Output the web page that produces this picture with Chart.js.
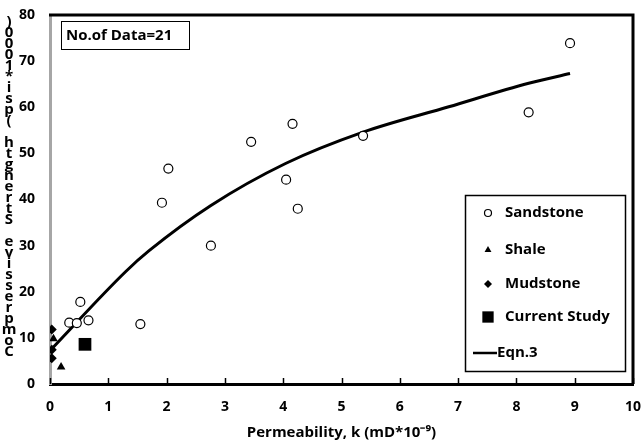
<!DOCTYPE html>
<html>
<head>
<meta charset="utf-8">
<script src="https://cdn.jsdelivr.net/npm/chart.js@4/dist/chart.umd.min.js"></script>
<style>
  html, body { margin: 0; padding: 0; background: #fff; }
</style>
</head>
<body>
<canvas id="myChart" width="642" height="444"></canvas>
<script>
// permeability k (mD*10^-9) and compressive strength (psi*1000) per rock type
var sandstoneK   = [0.33, 0.46, 0.52, 0.66, 1.55, 1.92, 2.03, 2.76, 3.45, 4.05, 4.16, 4.25, 5.37, 8.21, 8.92];
var sandstoneUCS = [13.3, 13.2, 17.8, 13.8, 13.0, 39.3, 46.7, 30.0, 52.5, 44.3, 56.4, 38.0, 53.8, 58.9, 73.9];
var shaleK   = [0.06, 0.19];
var shaleUCS = [9.8, 3.7];
var mudstoneK   = [0.03, 0.03, 0.03];
var mudstoneUCS = [11.8, 7.4, 5.6];
var currentK   = [0.60];
var currentUCS = [8.6];

// Eqn.3 fitted curve
var eqnK   = [0.02, 1.30, 1.70, 2.76, 4.04, 5.37, 6.84, 8.21, 8.92];
var eqnUCS = [7.5, 24.4, 28.9, 38.7, 47.8, 54.6, 60.1, 65.2, 67.3];

var xTicks = [0, 1, 2, 3, 4, 5, 6, 7, 8, 9, 10];
var yTicks = [0, 10, 20, 30, 40, 50, 60, 70, 80];

var yTitle = "Compressive Strength (psi*1000)";
var xTitle = "Permeability, k (mD*10\u207B\u2079)";
var noteText = "No.of Data=21";

var FONT = "'Open Sans', sans-serif";

function toPoints(xs, ys) {
    return xs.map(function (x, i) { return { x: x, y: ys[i] }; });
}

var datasets = [
    {
        label: "Sandstone",
        data: toPoints(sandstoneK, sandstoneUCS),
        pointStyle: "circle",
        pointRadius: 4.5,
        pointBorderWidth: 1.2,
        pointBorderColor: "#000",
        pointBackgroundColor: "#fff",
        showLine: false,
        legendRadius: 3.5
    },
    {
        label: "Shale",
        data: toPoints(shaleK, shaleUCS),
        pointStyle: "triangle",
        pointRadius: 5,
        pointBorderWidth: 0,
        pointBackgroundColor: "#000",
        showLine: false,
        legendRadius: 4
    },
    {
        label: "Mudstone",
        data: toPoints(mudstoneK, mudstoneUCS),
        pointStyle: "rectRot",
        pointRadius: 5,
        pointBorderWidth: 0,
        pointBackgroundColor: "#000",
        showLine: false,
        legendRadius: 4
    },
    {
        label: "Current Study",
        data: toPoints(currentK, currentUCS),
        pointStyle: "rect",
        pointRadius: 9,
        pointBorderWidth: 0,
        pointBackgroundColor: "#000",
        showLine: false,
        legendRadius: 8
    },
    {
        label: "Eqn.3",
        data: toPoints(eqnK, eqnUCS),
        showLine: true,
        borderColor: "#000",
        borderWidth: 3,
        pointRadius: 0,
        cubicInterpolationMode: "monotone",
        isLine: true
    }
];

// frame, y title, note box, ticks and legend
var extras = {
    id: "extras",
    afterDraw: function (chart) {
        var c = chart.ctx, a = chart.chartArea;
        var xs = chart.scales.x;
        c.save();

        // top and right frame
        c.strokeStyle = "#000";
        c.lineWidth = 3;
        c.beginPath();
        c.moveTo(a.left - 1, a.top);
        c.lineTo(a.right, a.top);
        c.lineTo(a.right, a.bottom);
        c.stroke();

        // inward x ticks
        c.lineWidth = 1.5;
        xTicks.forEach(function (v) {
            var px = Math.round(xs.getPixelForValue(v)) + 0.5;
            c.beginPath();
            c.moveTo(px, a.bottom);
            c.lineTo(px, a.bottom - 6);
            c.stroke();
        });

        // y axis title, letters stacked bottom to top
        c.fillStyle = "#000";
        c.font = "bold 15px " + FONT;
        c.textAlign = "center";
        c.textBaseline = "middle";
        var chars = yTitle.split("");
        var yBottom = 352, step = 11;
        chars.forEach(function (ch, i) {
            c.fillText(ch, 9, yBottom - i * step);
        });

        // note box
        c.lineWidth = 1;
        c.strokeRect(61.5, 21.5, 128, 28);
        c.font = "bold 15px " + FONT;
        c.textAlign = "left";
        c.fillText(noteText, 66, 36);

        // legend
        c.lineWidth = 1.5;
        c.strokeRect(465.5, 195.5, 160, 176);
        var rowY = [213, 250, 284, 317, 353];
        c.font = "bold 15px " + FONT;
        chart.data.datasets.forEach(function (ds, i) {
            var y = rowY[i];
            c.fillStyle = "#000";
            if (ds.isLine) {
                c.strokeStyle = "#000";
                c.lineWidth = 2.5;
                c.beginPath();
                c.moveTo(473, y);
                c.lineTo(497, y);
                c.stroke();
                c.fillText(ds.label, 497, y);
                return;
            }
            c.fillStyle = ds.pointBackgroundColor;
            c.strokeStyle = ds.pointBorderColor || "#000";
            c.lineWidth = ds.pointBorderWidth;
            Chart.helpers.drawPoint(c, {
                pointStyle: ds.pointStyle,
                radius: ds.legendRadius,
                rotation: 0,
                borderWidth: ds.pointBorderWidth
            }, 488, y);
            c.fillStyle = "#000";
            c.fillText(ds.label, 505, y);
        });
        c.restore();
    }
};

var ctx = document.getElementById("myChart");
var myChart = new Chart(ctx, {
    type: "scatter",
    data: { datasets: datasets },
    options: {
        responsive: false,
        animation: false,
        layout: { padding: { top: 15, right: 3, left: 0, bottom: 0 } },
        plugins: {
            legend: { display: false },
            tooltip: { enabled: false }
        },
        scales: {
            x: {
                type: "linear",
                min: 0,
                max: 10,
                afterBuildTicks: function (s) {
                    s.ticks = xTicks.map(function (v) { return { value: v }; });
                },
                afterFit: function (s) {
                    s.height = 60;
                    s.paddingLeft = 0;
                    s.paddingRight = 0;
                },
                ticks: {
                    color: "#000",
                    padding: 15,
                    font: { family: FONT, size: 14, weight: "bold" }
                },
                grid: { display: false, drawTicks: false },
                border: { color: "#000", width: 3 },
                title: {
                    display: true,
                    text: xTitle,
                    color: "#000",
                    padding: { top: 3, bottom: 2 },
                    font: { family: FONT, size: 15, weight: "bold" }
                }
            },
            y: {
                type: "linear",
                min: 0,
                max: 80,
                afterBuildTicks: function (s) {
                    s.ticks = yTicks.map(function (v) { return { value: v }; });
                },
                afterFit: function (s) {
                    s.width = 50;
                    s.paddingTop = 0;
                    s.paddingBottom = 0;
                },
                ticks: {
                    color: "#000",
                    padding: 15,
                    font: { family: FONT, size: 14, weight: "bold" }
                },
                grid: { display: false, drawTicks: false },
                border: { color: "#a6a6a6", width: 3 }
            }
        }
    },
    plugins: [extras]
});
</script>
</body>
</html>
